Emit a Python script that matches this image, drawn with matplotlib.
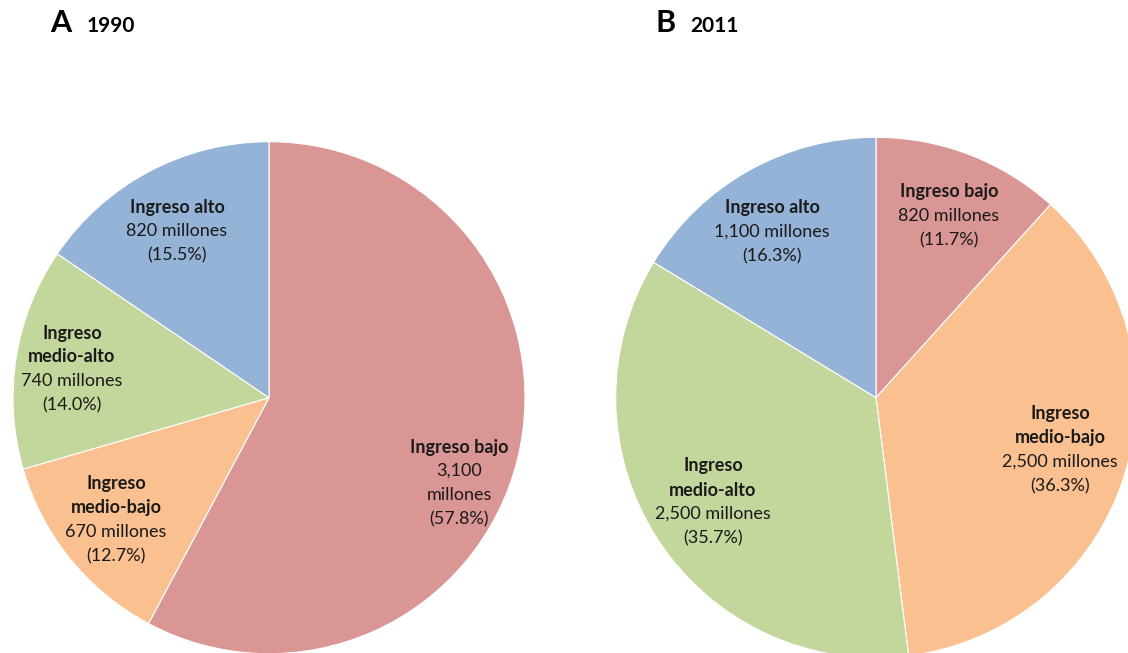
import matplotlib.pyplot as plt

W, H = 1128, 653
plt.rcParams['font.family'] = ['Lato', 'DejaVu Sans']

names = ["Ingreso bajo", "Ingreso\nmedio-bajo", "Ingreso\nmedio-alto", "Ingreso alto"]
colors = ["#D99694", "#FAC090", "#C3D69B", "#95B3D7"]

pop_1990 = [3100, 670, 740, 820]
pct_1990 = [57.8, 12.7, 14.0, 15.5]
pop_2011 = [820, 2500, 2500, 1100]
pct_2011 = [11.7, 36.3, 35.7, 16.3]

# label block centres in pixels (x from left, y from top)
labels_1990 = [(459, 483), (116, 520), (72, 369), (177, 231)]
labels_2011 = [(949, 216), (1060, 450), (713, 502), (772, 232)]

LINE = 24
FS = 13

fig = plt.figure(figsize=(W / 100, H / 100), dpi=100)
ax = fig.add_axes([0, 0, 1, 1])


def draw_pie(cx, cy, r, pcts, pops, label_xy, wrap=()):
    ax.pie(pcts, colors=colors, startangle=90, counterclock=False,
           center=(cx, H - cy), radius=r,
           wedgeprops=dict(edgecolor='white', linewidth=0.8))
    for i, (lx, ly) in enumerate(label_xy):
        val = f"{pops[i]:,} millones"
        if i in wrap:
            val = val.replace(" ", "\n")
        rows = [(s, 'bold') for s in names[i].split("\n")]
        rows += [(s, 'normal') for s in val.split("\n")]
        rows.append((f"({pcts[i]:.1f}%)", 'normal'))
        y0 = ly - (len(rows) - 1) / 2 * LINE
        for k, (txt, wt) in enumerate(rows):
            ax.text(lx, H - (y0 + k * LINE), txt, ha='center', va='center',
                    fontsize=FS, fontweight=wt, color='#1a1a1a')


draw_pie(269, 397.7, 256, pct_1990, pop_1990, labels_1990, wrap=(0,))
draw_pie(876, 397.6, 260.3, pct_2011, pop_2011, labels_2011)

ax.set_xlim(0, W)
ax.set_ylim(0, H)
ax.set_aspect('equal')
ax.axis('off')

# panel headings
for letter, year, x0, x1 in [("A", "1990", 50, 87), ("B", "2011", 655, 690)]:
    ax.text(x0, H - 32, letter, fontsize=22, fontweight='bold', va='baseline')
    ax.text(x1, H - 32, year, fontsize=15, fontweight='bold', va='baseline')

fig.savefig("out.png", dpi=100)
